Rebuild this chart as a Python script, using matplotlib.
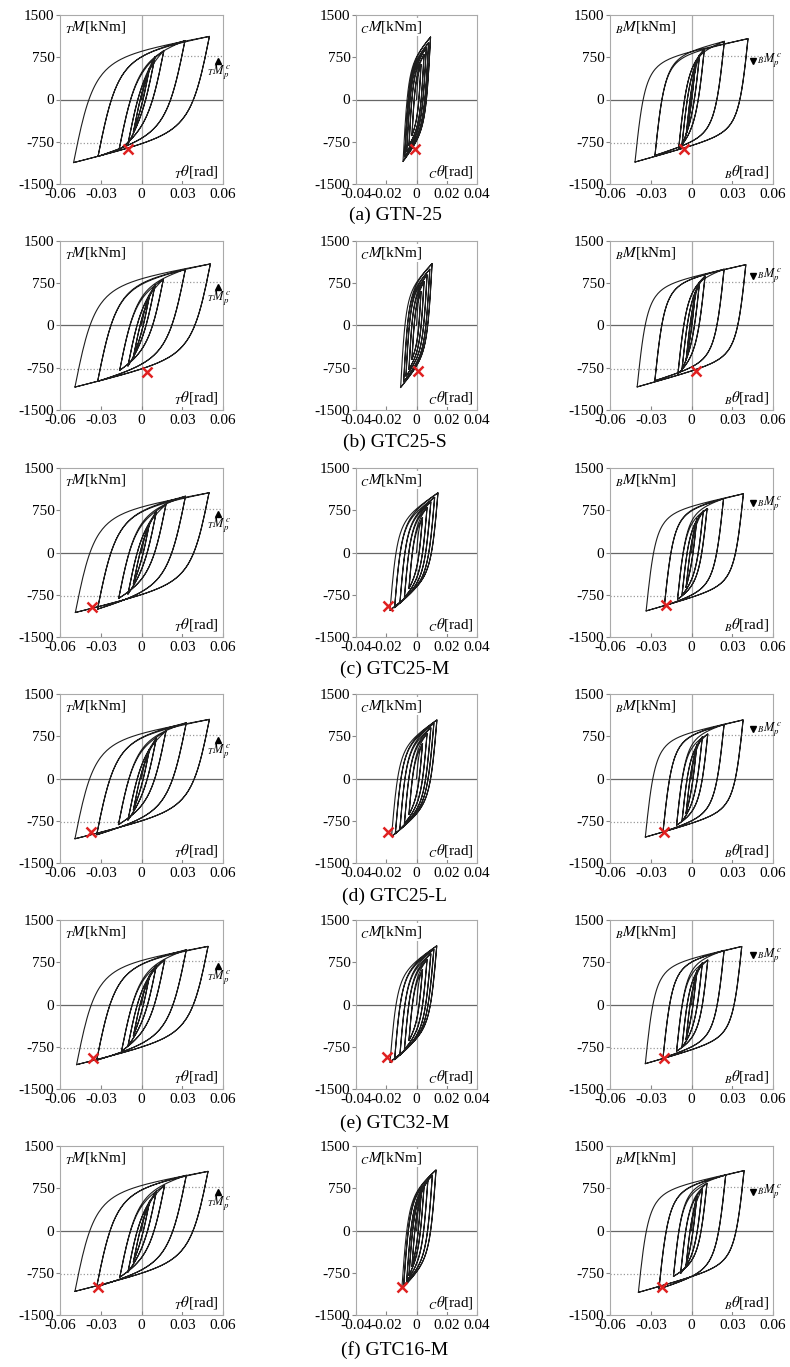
import numpy as np
import matplotlib
matplotlib.use('Agg')
import matplotlib.pyplot as plt

plt.rcParams['font.family'] = ['Liberation Serif', 'DejaVu Serif']
plt.rcParams['mathtext.fontset'] = 'stix'
plt.rcParams['axes.unicode_minus'] = False

titles = ['(a) GTN-25', '(b) GTC25-S', '(c) GTC25-M', '(d) GTC25-L', '(e) GTC32-M', '(f) GTC16-M']

# peak rotations / moments of each cycle, one list per specimen (rows a-f)
# left column (T)
T_tpos = [[0.006, 0.010, 0.0165, 0.032, 0.050],
          [0.006, 0.010, 0.0161, 0.0323, 0.0507],
          [0.006, 0.011, 0.018, 0.0324, 0.0497],
          [0.006, 0.011, 0.018, 0.033, 0.050],
          [0.006, 0.011, 0.0171, 0.033, 0.049],
          [0.006, 0.011, 0.017, 0.033, 0.049]]
T_mpos = [[560, 760, 870, 1045, 1120],
          [540, 720, 821, 998, 1093],
          [530, 730, 851, 1000, 1060],
          [530, 720, 840, 990, 1050],
          [520, 700, 792, 972, 1032],
          [520, 700, 800, 980, 1050]]
T_tneg = [[-0.006, -0.010, -0.0166, -0.032, -0.050],
          [-0.006, -0.010, -0.0161, -0.0323, -0.049],
          [-0.006, -0.010, -0.0168, -0.0324, -0.0487],
          [-0.006, -0.010, -0.017, -0.033, -0.049],
          [-0.006, -0.010, -0.0147, -0.033, -0.0478],
          [-0.006, -0.010, -0.016, -0.033, -0.049]]
T_mneg = [[-580, -790, -900, -1010, -1120],
          [-560, -720, -797, -992, -1093],
          [-560, -740, -815, -1006, -1065],
          [-560, -740, -820, -1000, -1070],
          [-560, -740, -828, -990, -1068],
          [-560, -740, -830, -1000, -1080]]
T_cross = [(-0.010, -885), (0.0037, -827), (-0.0367, -964), (-0.037, -950), (-0.0355, -948), (-0.032, -1000)]

# middle column (C)
C_tpos = [[0.003, 0.005, 0.0065, 0.008, 0.0093],
          [0.003, 0.005, 0.007, 0.0088, 0.0103],
          [0.004, 0.007, 0.0095, 0.012, 0.0142],
          [0.004, 0.007, 0.0095, 0.0115, 0.0135],
          [0.004, 0.007, 0.0095, 0.0115, 0.0134],
          [0.003, 0.005, 0.0075, 0.0105, 0.0129]]
C_mpos = [[620, 800, 920, 1010, 1110],
          [600, 780, 900, 1000, 1100],
          [620, 800, 900, 980, 1060],
          [620, 800, 900, 980, 1040],
          [620, 800, 900, 980, 1042],
          [620, 780, 880, 980, 1075]]
C_tneg = [[-0.003, -0.005, -0.0065, -0.0078, -0.0089],
          [-0.003, -0.005, -0.007, -0.0085, -0.0105],
          [-0.005, -0.008, -0.011, -0.0145, -0.0175],
          [-0.005, -0.008, -0.011, -0.014, -0.0165],
          [-0.005, -0.008, -0.011, -0.0145, -0.0175],
          [-0.003, -0.005, -0.0065, -0.0085, -0.0097]]
C_mneg = [[-640, -820, -930, -1020, -1098],
          [-600, -780, -900, -1000, -1100],
          [-640, -800, -900, -980, -1025],
          [-640, -800, -900, -980, -1030],
          [-640, -800, -900, -980, -1024],
          [-640, -800, -900, -980, -1033]]
C_cross = [(-0.0013, -886), (0.001, -800), (-0.0186, -949), (-0.019, -950), (-0.0193, -934), (-0.0099, -1010)]

# right column (B)
B_tpos = [[0.003, 0.006, 0.0095, 0.0242, 0.0416],
          [0.003, 0.006, 0.010, 0.024, 0.040],
          [0.004, 0.0087, 0.0115, 0.0236, 0.0382],
          [0.004, 0.008, 0.012, 0.024, 0.038],
          [0.004, 0.008, 0.012, 0.024, 0.037],
          [0.004, 0.008, 0.0114, 0.0252, 0.0387]]
B_mpos = [[620, 800, 900, 1033, 1080],
          [600, 780, 880, 1000, 1080],
          [600, 740, 780, 955, 1043],
          [600, 740, 790, 960, 1040],
          [600, 740, 790, 960, 1030],
          [600, 740, 838, 986, 1063]]
B_tneg = [[-0.004, -0.007, -0.0095, -0.0269, -0.0416],
          [-0.004, -0.007, -0.010, -0.027, -0.040],
          [-0.004, -0.007, -0.0103, -0.020, -0.0334],
          [-0.004, -0.007, -0.011, -0.021, -0.034],
          [-0.004, -0.007, -0.011, -0.021, -0.034],
          [-0.004, -0.008, -0.0133, -0.024, -0.0391]]
B_mneg = [[-640, -800, -880, -992, -1110],
          [-620, -780, -860, -980, -1090],
          [-620, -760, -832, -949, -1037],
          [-620, -760, -830, -950, -1040],
          [-620, -760, -830, -950, -1050],
          [-620, -760, -815, -1039, -1098]]
B_cross = [(-0.0055, -874), (0.003, -800), (-0.019, -930), (-0.020, -945), (-0.020, -950), (-0.0215, -1004)]

# elastic stiffness [kNm/rad] per column, per row; hardening ratio (loading up, loading down)
T_stiff = [120000] * 6
C_stiff = [500000, 480000, 320000, 320000, 320000, 380000]
B_stiff = [230000] * 6
hard = {'T': (0.03, 0.045), 'C': (0.05, 0.06), 'B': (0.021, 0.028)}

mp_level = 770


def branch(t0, m0, t1, m1, k, b, r=2.0, n=90):
    # Menegotto-Pinto type branch between two reversal points
    tc = (m1 - m0 + k * t0 - b * k * t1) / (k * (1 - b))
    mc = m0 + k * (tc - t0)
    xe = (t1 - t0) / (tc - t0)
    xi = np.linspace(0, xe, n)
    eta = b * xi + (1 - b) * xi / (1 + np.abs(xi) ** r) ** (1 / r)
    m = m0 + eta * (mc - m0)
    m = m + (m1 - m[-1]) * (xi / xe) ** 2
    th = t0 + xi * (tc - t0)
    return th, m


def hysteresis(tp, mp, tn, mn, k, bb):
    b_up, b_dn = bb
    th, m = branch(0, 0, tp[0], mp[0], k, b_up)
    xs, ys = [th], [m]
    for i in range(len(tp)):
        for rep in range(2):
            a = branch(tp[i], mp[i], tn[i], mn[i], k, b_dn)
            xs.append(a[0]); ys.append(a[1])
            if rep == 1 and i == len(tp) - 1:
                break
            j = i if rep == 0 else i + 1
            a = branch(tn[i], mn[i], tp[j], mp[j], k, b_up)
            xs.append(a[0]); ys.append(a[1])
    return np.concatenate(xs), np.concatenate(ys)


W, H = 790, 1367
fig = plt.figure(figsize=(W / 100, H / 100), dpi=100)

row_top = [15, 241, 468, 694, 920, 1146]
title_y = [215, 442, 669, 896, 1123, 1350]
ax_h = 169
cols = [('T', 60, 163, 0.06, T_tpos, T_mpos, T_tneg, T_mneg, T_cross, T_stiff),
        ('C', 356, 121, 0.04, C_tpos, C_mpos, C_tneg, C_mneg, C_cross, C_stiff),
        ('B', 610, 163, 0.06, B_tpos, B_mpos, B_tneg, B_mneg, B_cross, B_stiff)]
mark_y = [690, 880, 870, 870, 870, 690]

for r in range(6):
    for name, left, w, lim, tp, mp, tn, mn, cross, stiff in cols:
        ax = fig.add_axes([left / W, 1 - (row_top[r] + ax_h) / H, w / W, ax_h / H])
        ax.set_xlim(-lim, lim)
        ax.set_ylim(-1500, 1500)
        ax.axhline(0, color='#666666', lw=0.9, zorder=1)
        ax.axvline(0, color='#aaaaaa', lw=0.9, zorder=1)
        th, m = hysteresis(tp[r], mp[r], tn[r], mn[r], stiff[r], hard[name])
        ax.plot(th, m, color='#1e1e1e', lw=0.8, zorder=3)
        ax.plot(cross[r][0], cross[r][1], marker='x', color='#e02020', ms=7, mew=1.8, zorder=5)

        if name == 'T':
            ax.plot([tp[r][2], lim], [mp_level, mp_level], ':', color='#999999', lw=0.9, zorder=2)
            ax.plot([-lim, tn[r][2]], [-mp_level, -mp_level], ':', color='#999999', lw=0.9, zorder=2)
            ax.plot(0.0565, 690, marker='^', color='k', ms=4, clip_on=False, zorder=6)
            ax.text(0.057, 470, r'${}_{T}M_p^{\,c}$', ha='center', va='center', fontsize=9, zorder=6)
        if name == 'B':
            ax.plot([tp[r][2], lim], [mp_level, mp_level], ':', color='#999999', lw=0.9, zorder=2)
            ax.plot([-lim, tn[r][2]], [-mp_level, -mp_level], ':', color='#999999', lw=0.9, zorder=2)
            ax.plot(0.045, mark_y[r], marker='v', color='k', ms=4, clip_on=False, zorder=6)
            ax.text(0.048, mark_y[r], r'${}_{B}M_p^{\,c}$', ha='left', va='center', fontsize=9,
                    zorder=6, clip_on=False)

        ax.text(0.03, 0.975, r'${}_{%s}M$[kNm]' % name, transform=ax.transAxes, ha='left', va='top',
                fontsize=11, zorder=4, bbox=dict(facecolor='white', edgecolor='none', pad=0.5))
        ax.text(0.975, 0.025, r'${}_{%s}\theta$[rad]' % name, transform=ax.transAxes, ha='right',
                va='bottom', fontsize=11, zorder=4, bbox=dict(facecolor='white', edgecolor='none', pad=0.5))

        xt = [-lim, -lim / 2, 0, lim / 2, lim]
        ax.set_xticks(xt)
        ax.set_xticklabels(['%g' % v if v != 0 else '0' for v in xt], fontsize=11)
        ax.set_yticks([-1500, -750, 0, 750, 1500])
        ax.set_yticklabels(['-1500', '-750', '0', '750', '1500'], fontsize=11)
        ax.tick_params(axis='x', direction='in', length=3, pad=3, color='#888888')
        ax.tick_params(axis='y', direction='out', length=3, pad=1, color='#888888')
        for s in ax.spines.values():
            s.set_color('#aaaaaa')
            s.set_linewidth(0.8)

    fig.text(395 / W, 1 - title_y[r] / H, titles[r], ha='center', va='center', fontsize=14)

fig.savefig('out.png', dpi=100)
